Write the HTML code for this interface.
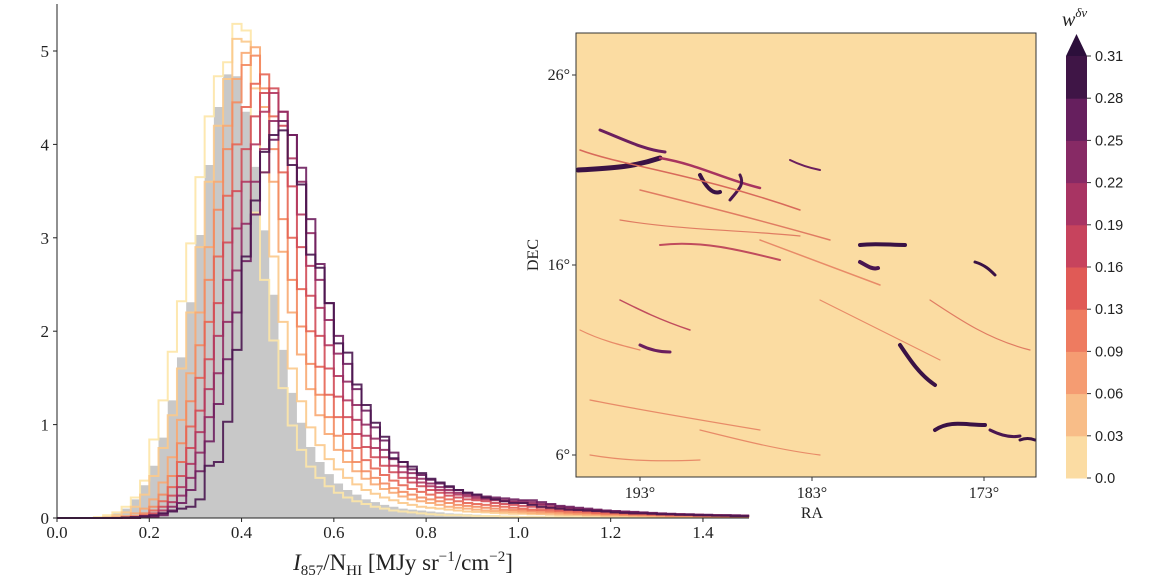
<!DOCTYPE html>
<html><head><meta charset="utf-8">
<style>
html,body{margin:0;padding:0;background:#fff;width:1152px;height:576px;overflow:hidden;}
svg text{font-family:"Liberation Serif",serif;fill:#222;}
</style></head>
<body>
<svg id="fig" width="1152" height="576" viewBox="0 0 1152 576" xmlns="http://www.w3.org/2000/svg">
<g id="main"></g>
<g id="inset"></g>
<g id="cbar"></g>
</svg>
<script>
const xTicks=[0.0,0.2,0.4,0.6,0.8,1.0,1.2,1.4];
const yTicks=[0,1,2,3,4,5];
const binWidth=0.02;
const grey=[0,0,0,0,0,0.02,0.05,0.1,0.2,0.35,0.56,0.86,1.26,1.72,2.31,3.03,3.78,4.4,4.75,4.73,4.35,3.76,3.08,2.39,1.8,1.34,1.02,0.76,0.6,0.47,0.37,0.3,0.25,0.2,0.17,0.14,0.12,0.1,0.09,0.08,0.07,0.06,0.05,0.045,0.04,0.035,0.03,0.03,0.025,0.025,0.02,0.02,0.02,0.015,0.015,0.015,0.01,0.01,0.01,0.01,0.01,0.01,0.01,0.01,0.01,0.01,0.005,0.005,0.005,0.005,0.005,0.005,0.005,0.005,0.005];
const s0=[0,0,0,0,0.01,0.03,0.06,0.12,0.22,0.4,0.84,1.26,1.78,2.32,2.94,3.65,4.3,4.73,4.88,5.29,5.22,3.27,2.55,1.9,1.39,0.99,0.73,0.55,0.43,0.34,0.27,0.22,0.18,0.15,0.12,0.1,0.08,0.07,0.06,0.05,0.04,0.035,0.03,0.03,0.025,0.02,0.02,0.02,0.015,0.015,0.01,0.01,0.01,0.01,0.01,0.01,0.01,0.005,0.005,0.005,0.005,0.005,0.005,0.005,0.005,0.005,0.005,0.005,0.005,0.005,0.005,0.005,0.005,0.005,0.005];
const s1=[0,0,0,0,0,0.01,0.03,0.06,0.12,0.25,0.45,0.75,1.1,1.6,2.2,2.9,3.6,4.2,4.7,5.13,5.1,4.6,3.7,2.8,2.1,1.6,1.25,0.97,0.78,0.63,0.52,0.43,0.36,0.3,0.26,0.22,0.19,0.16,0.14,0.12,0.11,0.1,0.09,0.08,0.07,0.065,0.06,0.055,0.05,0.045,0.045,0.04,0.04,0.035,0.03,0.03,0.03,0.025,0.025,0.02,0.02,0.02,0.02,0.02,0.015,0.015,0.015,0.015,0.01,0.01,0.01,0.01,0.01,0.01,0.01];
const s2=[0,0,0,0,0,0,0.01,0.02,0.05,0.1,0.2,0.38,0.65,1.05,1.55,2.2,2.9,3.6,4.2,4.7,4.98,5.04,4.4,3.6,2.85,2.2,1.75,1.38,1.1,0.9,0.73,0.6,0.5,0.42,0.36,0.31,0.27,0.23,0.2,0.18,0.16,0.14,0.12,0.11,0.1,0.09,0.08,0.075,0.07,0.065,0.06,0.055,0.05,0.05,0.045,0.04,0.04,0.035,0.035,0.03,0.03,0.03,0.025,0.025,0.025,0.02,0.02,0.02,0.02,0.02,0.015,0.015,0.015,0.015,0.015];
const s3=[0,0,0,0,0,0,0,0.01,0.02,0.05,0.12,0.25,0.45,0.8,1.25,1.85,2.55,3.3,3.95,4.45,4.85,4.95,4.6,3.95,3.2,2.55,2.05,1.65,1.32,1.08,0.88,0.72,0.6,0.5,0.43,0.37,0.32,0.28,0.25,0.22,0.2,0.18,0.16,0.14,0.13,0.12,0.11,0.1,0.09,0.085,0.08,0.075,0.07,0.065,0.06,0.055,0.05,0.05,0.045,0.04,0.04,0.035,0.035,0.03,0.03,0.03,0.025,0.025,0.025,0.02,0.02,0.02,0.02,0.02,0.02];
const s4=[0,0,0,0,0,0,0,0.005,0.01,0.03,0.08,0.18,0.33,0.6,0.98,1.5,2.1,2.8,3.45,4.0,4.4,4.65,4.75,4.3,3.7,3.0,2.45,2.0,1.62,1.32,1.08,0.9,0.75,0.62,0.53,0.46,0.4,0.35,0.31,0.28,0.25,0.22,0.2,0.18,0.16,0.15,0.14,0.13,0.12,0.11,0.1,0.09,0.085,0.08,0.075,0.07,0.065,0.06,0.055,0.05,0.05,0.045,0.04,0.04,0.035,0.035,0.03,0.03,0.03,0.025,0.025,0.025,0.02,0.02,0.02];
const s5=[0,0,0,0,0,0,0,0,0.01,0.02,0.05,0.12,0.24,0.45,0.75,1.15,1.7,2.3,2.95,3.5,3.95,4.3,4.55,4.6,4.2,3.55,2.9,2.38,1.95,1.6,1.3,1.08,0.9,0.76,0.65,0.56,0.49,0.43,0.38,0.34,0.3,0.27,0.24,0.22,0.2,0.19,0.18,0.16,0.15,0.14,0.13,0.12,0.11,0.1,0.09,0.085,0.08,0.075,0.07,0.065,0.06,0.055,0.05,0.05,0.045,0.04,0.04,0.035,0.035,0.03,0.03,0.03,0.025,0.025,0.025];
const s6=[0,0,0,0,0,0,0,0,0.005,0.01,0.03,0.08,0.17,0.33,0.58,0.92,1.38,1.95,2.55,3.1,3.6,4.0,4.35,4.55,4.35,3.85,3.25,2.7,2.25,1.85,1.52,1.26,1.05,0.88,0.75,0.65,0.56,0.49,0.43,0.38,0.34,0.3,0.27,0.25,0.23,0.21,0.2,0.19,0.18,0.17,0.16,0.15,0.14,0.12,0.11,0.1,0.09,0.085,0.08,0.075,0.07,0.065,0.06,0.055,0.05,0.045,0.04,0.04,0.035,0.035,0.03,0.03,0.03,0.025,0.025];
const s7=[0,0,0,0,0,0,0,0,0,0.01,0.02,0.05,0.12,0.24,0.43,0.7,1.08,1.55,2.1,2.65,3.15,3.6,3.95,4.25,4.35,4.1,3.6,3.05,2.55,2.12,1.76,1.46,1.21,1.0,0.85,0.73,0.63,0.55,0.48,0.42,0.37,0.33,0.3,0.27,0.25,0.23,0.21,0.2,0.19,0.18,0.18,0.17,0.15,0.14,0.12,0.11,0.1,0.09,0.085,0.08,0.07,0.065,0.06,0.055,0.05,0.045,0.04,0.04,0.035,0.035,0.03,0.03,0.03,0.025,0.025];
const s8=[0,0,0,0,0,0,0,0,0,0.005,0.01,0.03,0.08,0.16,0.3,0.5,0.82,1.22,1.7,2.2,2.75,3.25,3.7,4.05,4.25,4.1,3.75,3.2,2.72,2.3,1.95,1.65,1.38,1.15,0.97,0.83,0.7,0.6,0.52,0.46,0.41,0.37,0.33,0.3,0.27,0.25,0.23,0.22,0.21,0.2,0.19,0.19,0.17,0.15,0.13,0.12,0.11,0.1,0.09,0.08,0.075,0.07,0.065,0.06,0.055,0.05,0.045,0.04,0.04,0.035,0.035,0.03,0.03,0.03,0.025];
const s9=[0,0,0,0,0,0,0,0.005,0.01,0.02,0.03,0.05,0.07,0.1,0.12,0.2,0.56,0.6,1.03,1.8,2.8,3.4,3.92,4.1,4.15,3.78,3.57,2.82,2.68,2.3,1.87,1.77,1.43,1.21,1.02,0.87,0.64,0.6,0.55,0.48,0.42,0.38,0.34,0.3,0.27,0.25,0.22,0.2,0.18,0.16,0.16,0.14,0.12,0.11,0.1,0.09,0.085,0.08,0.075,0.07,0.06,0.055,0.05,0.05,0.045,0.04,0.04,0.035,0.035,0.03,0.03,0.025,0.025,0.02,0.02];
const series=[s0,s1,s2,s3,s4,s5,s6,s7,s8,s9];
const seriesColors=["#fde5a7","#fbc98b","#f8a972","#f3895f","#e76553","#d24b57","#b3375f","#922b63","#6e1f5f","#4a1650"];
const cbarLevels=[0.0,0.03,0.06,0.09,0.13,0.16,0.19,0.22,0.25,0.28,0.31];
const cbarColors=["#fbdca3","#f8bd88","#f59c72","#ee7b60","#e05a56","#c7435d","#a83463","#872a65","#661f5e","#3f1546"];
const raTicks=[193,183,173];
const decTicks=[26,16,6];

const NS="http://www.w3.org/2000/svg";
function mk(tag,attrs,parent){const e=document.createElementNS(NS,tag);for(const k in attrs)e.setAttribute(k,attrs[k]);parent.appendChild(e);return e;}
const X0=57,X1=749,Y0=518;
const xs=v=>X0+v*461.4;
const ys=v=>Y0-v*93.4;
const main=document.getElementById('main');

function stepPath(arr){
  let d="M"+xs(0)+","+ys(0);
  for(let i=0;i<arr.length;i++){
    const a=Math.min(i*binWidth,1.5),b=Math.min((i+1)*binWidth,1.5);
    d+=" L"+xs(a).toFixed(2)+","+ys(arr[i]).toFixed(2)+" L"+xs(b).toFixed(2)+","+ys(arr[i]).toFixed(2);
  }
  return d;
}
const gp=mk('path',{d:stepPath(grey)+" L"+xs(1.5)+","+ys(0)+" Z",fill:"#c8c8c8",stroke:"none"},main);


series.forEach((arr,k)=>{
  const p=mk('path',{d:stepPath(arr),fill:"none",stroke:seriesColors[k],"stroke-width":2,"stroke-opacity":0.9,"stroke-linejoin":"miter"},main);
  
  
});
// axes
const ax=mk('path',{d:`M${X0},4 L${X0},${Y0} L${X1},${Y0}`,fill:"none",stroke:"#222","stroke-width":1},main);


xTicks.forEach(t=>{
  mk('line',{x1:xs(t),x2:xs(t),y1:Y0,y2:Y0+4,stroke:"#222"},main);
  const tx=mk('text',{x:xs(t),y:Y0+20,"text-anchor":"middle","font-size":17},main);
  tx.textContent=t.toFixed(1);
  
  
});
yTicks.forEach(t=>{
  mk('line',{x1:X0-4,x2:X0,y1:ys(t),y2:ys(t),stroke:"#222"},main);
  const tx=mk('text',{x:X0-8,y:ys(t)+6,"text-anchor":"end","font-size":17},main);
  tx.textContent=t;
  
  
});
const xl=mk('text',{x:403,y:570,"text-anchor":"middle","font-size":23},main);


xl.innerHTML='<tspan font-style="italic">I</tspan><tspan font-size="15" dy="5">857</tspan><tspan dy="-5">/N</tspan><tspan font-size="15" dy="5">HI</tspan><tspan dy="-5"> [MJy sr</tspan><tspan font-size="15" dy="-9">−1</tspan><tspan dy="9">/cm</tspan><tspan font-size="15" dy="-9">−2</tspan><tspan dy="9">]</tspan>';

// inset map
const inset=document.getElementById('inset');
const MX=576,MY=33,MW=460,MH=444;
const bg=mk('rect',{x:MX,y:MY,width:MW,height:MH,fill:"#fbdca2"},inset);


const fil=[
 ["M578,170 C610,168 630,168 660,158","#3a1245",5],
 ["M600,130 C625,140 645,150 665,152","#6b1f5e",3],
 ["M660,158 C700,165 720,178 760,188","#a8345f",2.5],
 ["M700,175 C705,185 712,195 720,192","#3a1245",4],
 ["M740,175 C745,185 738,190 730,200","#4a1650",3],
 ["M580,150 C620,165 700,175 800,210","#d86a5a",1.5],
 ["M640,190 C700,205 760,220 830,240","#e07c62",1.5],
 ["M660,245 C700,240 740,250 780,260","#c04c5d",2],
 ["M860,245 C875,243 890,245 905,245","#3a1245",4],
 ["M860,262 C866,265 872,270 878,268","#4a1650",4],
 ["M760,240 C800,255 840,270 880,285","#e88b68",1.5],
 ["M900,345 C910,360 920,375 935,385","#3a1245",4],
 ["M935,430 C950,420 965,425 985,425","#3a1245",4],
 ["M990,430 C1000,435 1010,438 1020,436","#4a1650",3],
 ["M1020,440 C1025,438 1030,438 1035,440","#3a1245",3],
 ["M975,262 C985,265 990,270 995,275","#3a1245",3],
 ["M620,300 C640,310 660,320 690,330","#c04c5d",1.5],
 ["M640,345 C650,350 660,352 670,352","#6b1f5e",3],
 ["M590,400 C640,410 700,420 760,430","#e88b68",1.2],
 ["M590,455 C620,460 650,462 700,460","#e88b68",1.2],
 ["M820,300 C860,320 900,340 940,360","#e88b68",1.2],
 ["M700,430 C740,440 780,450 820,455","#e88b68",1.2],
 ["M580,330 C600,340 620,345 640,350","#e88b68",1.2],
 ["M790,160 C800,165 810,168 820,170","#6b1f5e",2],
 ["M930,300 C960,320 990,340 1030,350","#e07c62",1.2],
 ["M620,220 C680,230 740,230 800,236","#e07c62",1.2]
];
fil.forEach(f=>{const p=mk('path',{d:f[0],fill:"none",stroke:f[1],"stroke-width":f[2],"stroke-linecap":"round"},inset);

});
mk('rect',{x:MX,y:MY,width:MW,height:MH,fill:"none",stroke:"#333","stroke-width":1},inset);
const raX=v=>640+(193-v)*17.2;
const decY=v=>455-(v-6)*19;
raTicks.forEach(t=>{
  mk('line',{x1:raX(t),x2:raX(t),y1:MY+MH,y2:MY+MH+4,stroke:"#333"},inset);
  const tx=mk('text',{x:raX(t),y:498,"text-anchor":"middle","font-size":16},inset);
  tx.textContent=t+"°";
  
  
});
decTicks.forEach(t=>{
  mk('line',{x1:MX-4,x2:MX,y1:decY(t),y2:decY(t),stroke:"#333"},inset);
  const tx=mk('text',{x:MX-6,y:decY(t)+5,"text-anchor":"end","font-size":16},inset);
  tx.textContent=t+"°";
  
  
});
const rl=mk('text',{x:812,y:518,"text-anchor":"middle","font-size":16},inset);
rl.textContent="RA";


const dl=mk('text',{x:538,y:255,"text-anchor":"middle","font-size":16,transform:"rotate(-90 538 255)"},inset);
dl.textContent="DEC";



// colorbar
const cbar=document.getElementById('cbar');
const CX=1066,CW=21,CT=56,CB=478;
const cy=v=>CB-(cbarLevels.indexOf(v))*(CB-CT)/(cbarLevels.length-1);
for(let i=0;i<cbarColors.length;i++){
  const r=mk('rect',{x:CX,y:cy(cbarLevels[i+1]),width:CW,height:cy(cbarLevels[i])-cy(cbarLevels[i+1])+0.5,fill:cbarColors[i]},cbar);
  
  
}
const tri=mk('path',{d:`M${CX},${CT} L${CX+CW/2},34 L${CX+CW},${CT} Z`,fill:"#2c0f3b"},cbar);


cbarLevels.forEach(v=>{
  mk('line',{x1:CX+CW,x2:CX+CW+4,y1:cy(v),y2:cy(v),stroke:"#333"},cbar);
  const tx=mk('text',{x:CX+CW+8,y:cy(v)+5,"font-size":14.5,style:"font-family:'Liberation Sans',sans-serif"},cbar);
  tx.textContent=v.toFixed(2).replace(/^0\.00$/,"0.0");
  
  
});
const ct=mk('text',{x:1062,y:26,"font-size":20,"font-style":"italic"},cbar);


ct.innerHTML='w<tspan font-size="13" dy="-9">δv</tspan>';
</script>
</body></html>
